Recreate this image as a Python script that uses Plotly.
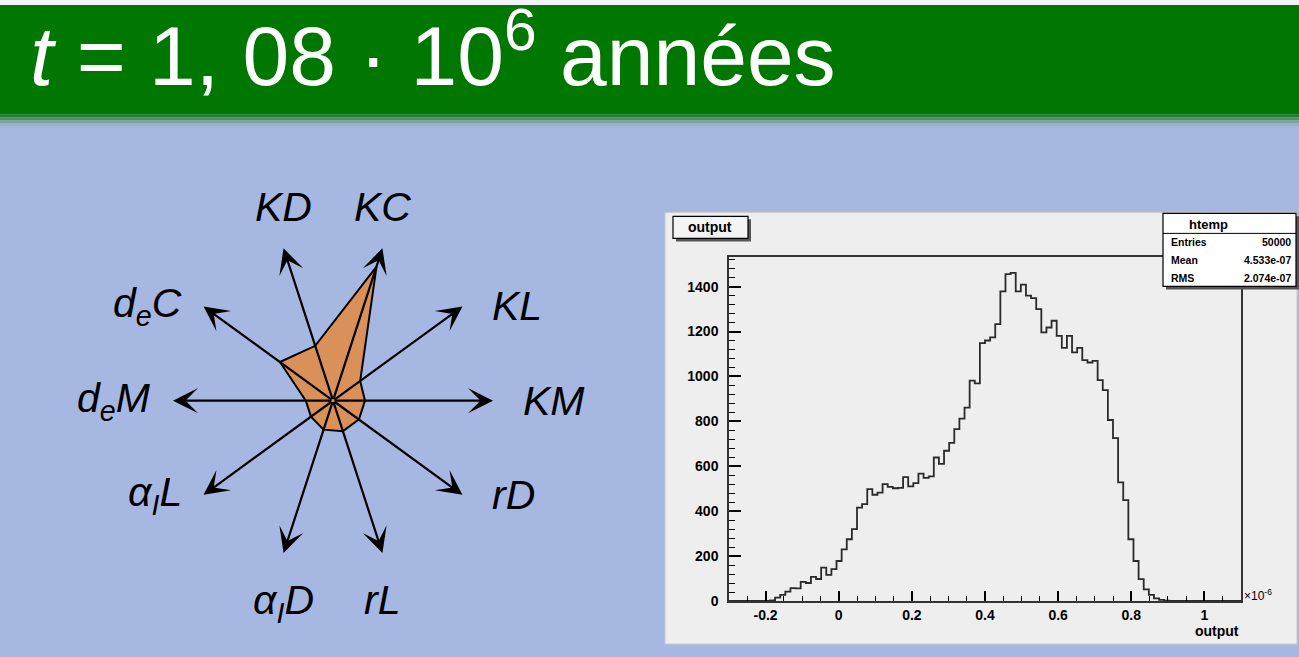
import numpy as np
import plotly.graph_objects as go

W, H = 1299, 657
# the page photo comes out ~1.4 % shorter vertically; stretch design y to compensate
YS = 1.014

# radar (left)
radar_axes = ["KM", "KL", "KC", "KD", "d<sub>e</sub>C", "d<sub>e</sub>M",
              "α<sub>I</sub>L", "α<sub>I</sub>D", "rL", "rD"]
radar_values = [0.20, 0.21, 0.88, 0.36, 0.41, 0.17, 0.17, 0.19, 0.20, 0.20]

# histogram (right), 100 bins from -0.3 to 1.1 (x 1e-6)
bin_lo, bin_hi = -0.3, 1.1
counts = [
    0, 0, 0, 0, 0, 0, 0, 0, 3, 15,
    27, 42, 57, 56, 85, 80, 107, 98, 149, 116,
    142, 178, 230, 275, 320, 416, 431, 498, 473, 483,
    520, 508, 502, 504, 552, 510, 525, 567, 548, 555,
    639, 611, 669, 704, 765, 812, 861, 981, 969, 1148,
    1160, 1174, 1233, 1379, 1456, 1461, 1379, 1409, 1360, 1349,
    1300, 1196, 1218, 1248, 1181, 1127, 1181, 1107, 1127, 1073,
    1062, 1069, 984, 939, 806, 725, 528, 449, 275, 178,
    97, 52, 27, 12, 5, 2, 0, 0, 0, 0,
    0, 0, 0, 0, 0, 0, 0, 0, 0, 0,
]
xtick_vals = [-0.2, 0, 0.2, 0.4, 0.6, 0.8, 1]
xtick_text = ["-0.2", "0", "0.2", "0.4", "0.6", "0.8", "1"]
ytick_vals = [0, 200, 400, 600, 800, 1000, 1200, 1400]
stats = [("Entries", "50000"), ("Mean", "4.533e-07"), ("RMS", "2.074e-07")]

BLUE = "#A6B8E2"
GREEN = "#007700"
FONT = "Liberation Sans"


def px(x):
    return x / W


def py(y):
    return max(0.0, 1 - y * YS / H)


def rect(x0, y0, x1, y1, fill, line=None, lw=1, layer="below"):
    return dict(type="rect", xref="paper", yref="paper",
                x0=px(x0), x1=px(x1), y0=py(y1), y1=py(y0),
                fillcolor=fill, line=dict(color=line or fill, width=lw if line else 0),
                layer=layer)


fig = go.Figure()

# --- radar polygon
theta = np.deg2rad(np.arange(len(radar_axes)) * 36.0)
rv = np.array(radar_values)
poly_x = np.append(rv * np.cos(theta), rv[0] * np.cos(theta[0]))
poly_y = np.append(rv * np.sin(theta), rv[0] * np.sin(theta[0]))
fig.add_trace(go.Scatter(x=poly_x, y=poly_y, mode="lines", fill="toself",
                         fillcolor="#D99159", line=dict(color="black", width=2),
                         xaxis="x2", yaxis="y2", hoverinfo="skip", showlegend=False))

annotations = []
for name, th in zip(radar_axes, theta):
    cx, cy = np.cos(th), np.sin(th)
    annotations.append(dict(x=cx, y=cy, ax=0, ay=0, xref="x2", yref="y2",
                            axref="x2", ayref="y2", text="", showarrow=True,
                            arrowhead=3, arrowsize=1.9, arrowwidth=2.2, arrowcolor="black"))
    lab = dict(x=cx, y=cy, xref="x2", yref="y2", text=f"<i>{name}</i>", showarrow=False,
               font=dict(family=FONT, size=41, color="black"))
    if cx > 0.5:
        lab.update(xanchor="left", yanchor="middle", xshift=28)
    elif cx < -0.5:
        lab.update(xanchor="right", yanchor="middle", xshift=-20)
    elif cy > 0:
        lab.update(xanchor="center", yanchor="bottom", yshift=16)
    else:
        lab.update(xanchor="center", yanchor="top", yshift=-22)
    annotations.append(lab)

# --- histogram step line
edges = np.linspace(bin_lo, bin_hi, len(counts) + 1)
fig.add_trace(go.Scatter(x=edges, y=counts + [counts[-1]], mode="lines",
                         line=dict(color="#2a2a2a", width=1.8, shape="hv"),
                         hoverinfo="skip", showlegend=False))

# title
annotations.append(dict(x=px(28), y=py(50), xref="paper", yref="paper",
                        xanchor="left", yanchor="middle", showarrow=False,
                        text="<i>t</i> = 1, 08 · 10<sup>6</sup> années",
                        font=dict(family=FONT, size=84, color="white")))

# ROOT pad decorations
annotations.append(dict(x=px(710), y=py(227), xref="paper", yref="paper", showarrow=False,
                        text="output", font=dict(family=FONT, size=14, color="black", weight="bold")))
annotations.append(dict(x=px(1241), y=py(620), xref="paper", yref="paper", showarrow=False,
                        xanchor="right", yanchor="top", text="output",
                        font=dict(family=FONT, size=14, color="black", weight="bold")))
annotations.append(dict(x=px(1242), y=py(594), xref="paper", yref="paper", showarrow=False,
                        xanchor="left", yanchor="middle", text="×10<sup>-6</sup>",
                        font=dict(family=FONT, size=12, color="black")))
annotations.append(dict(x=px(1230), y=py(224), xref="paper", yref="paper", showarrow=False,
                        text="htemp", font=dict(family=FONT, size=13, color="black", weight="bold")))
for i, (k, v) in enumerate(stats):
    yy = py(242 + 18 * i)
    annotations.append(dict(x=px(1169), y=yy, xref="paper", yref="paper", showarrow=False,
                            xanchor="left", text=k,
                            font=dict(family=FONT, size=10.5, color="black", weight="bold")))
    annotations.append(dict(x=px(1293), y=yy, xref="paper", yref="paper", showarrow=False,
                            xanchor="right", text=v,
                            font=dict(family=FONT, size=10.5, color="black", weight="bold")))

shapes = [
    rect(0, 0, W, 5, "#F2F4F8"),
    rect(0, 5, W, 114, GREEN),
    rect(0, 114, W, 117, "#1F7F2A"),
    rect(0, 117, W, 120, "#4E9263"),
    rect(0, 120, W, 123, "#7BA59C"),
    rect(0, 123, W, 126, "#96B2C8"),
    rect(665, 212, 1297, 643, "#EEEEEE", "#C8C8C8", 1),
    rect(676, 219, 751, 241, "#555555"),
    rect(673, 216, 748, 238, "#F4F4F4", "black", 1.2),
    rect(1166, 216, 1299, 289, "#555555", layer="above"),
    rect(1163, 213, 1296, 286, "white", "black", 1.2, layer="above"),
    dict(type="line", xref="paper", yref="paper", x0=px(1163), x1=px(1296),
         y0=py(233), y1=py(233), line=dict(color="black", width=1), layer="above"),
]

fig.update_layout(
    width=W, height=H, autosize=False,
    margin=dict(l=0, r=0, t=0, b=0),
    paper_bgcolor=BLUE,
    plot_bgcolor="rgba(0,0,0,0)",
    showlegend=False,
    shapes=shapes,
    annotations=annotations,
    xaxis=dict(domain=[px(729), px(1241)], range=[bin_lo, bin_hi],
               tickvals=xtick_vals, ticktext=xtick_text,
               ticks="inside", ticklen=10, tickwidth=1.5, tickcolor="black",
               minor=dict(ticks="inside", dtick=0.05, tick0=0, ticklen=5,
                          tickwidth=1, tickcolor="black"),
               showline=True, linecolor="#333333", linewidth=1.5, mirror=True,
               showgrid=False, zeroline=False,
               tickfont=dict(family=FONT, size=14, color="black", weight="bold")),
    yaxis=dict(domain=[py(600), py(257)], range=[0, 1530],
               tickvals=ytick_vals,
               ticks="inside", ticklen=12, tickwidth=1.5, tickcolor="black",
               minor=dict(ticks="inside", dtick=40, tick0=0, ticklen=6,
                          tickwidth=1, tickcolor="black"),
               showline=True, linecolor="#333333", linewidth=1.5, mirror=True,
               showgrid=False, zeroline=False, ticklabelstandoff=6,
               tickfont=dict(family=FONT, size=14, color="black", weight="bold")),
    xaxis2=dict(domain=[px(5), px(661)], range=[-2.05, 2.05], visible=False),
    yaxis2=dict(domain=[py(640), py(160)], range=[-1.5, 1.5], visible=False),
)

page_fix = (
    "[document.documentElement, document.body].forEach(function(e){"
    "e.style.margin='0';e.style.padding='0';e.style.overflow='hidden';"
    "e.style.background='" + BLUE + "';});"
)
fig.write_html("out.html", config={"displayModeBar": False, "responsive": False},
               post_script=page_fix)
